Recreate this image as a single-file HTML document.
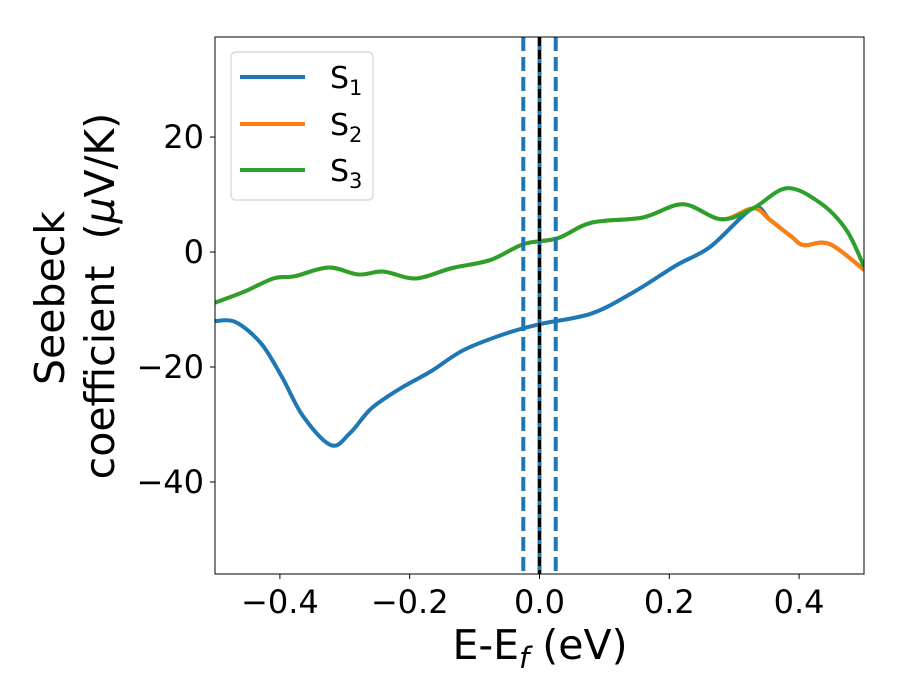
<!DOCTYPE html>
<html><head><meta charset="utf-8"><style>
html,body{margin:0;padding:0;background:#fff;}
svg{display:block;font-family:"DejaVu Sans","Liberation Sans",sans-serif;}
</style></head><body>
<svg id="chart" width="900" height="700" viewBox="0 0 900 700" xmlns="http://www.w3.org/2000/svg">
<rect width="900" height="700" fill="#fff"/>
<g id="plot"></g>
<g id="axes"></g>
<g id="legend"></g>
</svg>
<script>
const xTicks=[-0.4,-0.2,0.0,0.2,0.4];
const xTickLabels=["\u22120.4","\u22120.2","0.0","0.2","0.4"];
const yTicks=[20,0,-20,-40];
const yTickLabels=["20","0","\u221220","\u221240"];
const s1x=[-0.5,-0.468,-0.429,-0.397,-0.364,-0.321,-0.292,-0.259,-0.214,-0.168,-0.116,-0.05,0.002,0.08,0.146,0.211,0.263,0.329,0.355,0.388,0.407,0.447,0.5];
const s1y=[-12.0,-12.2,-15.9,-21.7,-28.6,-33.6,-31.5,-27.2,-23.7,-20.8,-17.0,-14.1,-12.5,-10.7,-6.9,-2.3,0.9,7.6,5.6,2.7,1.2,1.4,-3.1];
const s2x=[-0.5,-0.455,-0.41,-0.377,-0.325,-0.279,-0.24,-0.191,-0.135,-0.076,-0.024,0.028,0.08,0.159,0.221,0.28,0.329,0.355,0.388,0.407,0.447,0.5];
const s2y=[-8.8,-6.9,-4.6,-4.2,-2.7,-3.9,-3.4,-4.6,-2.8,-1.4,1.4,2.4,5.1,6.0,8.3,5.7,7.6,5.6,2.7,1.2,1.4,-3.1];
const s3x=[-0.5,-0.455,-0.41,-0.377,-0.325,-0.279,-0.24,-0.191,-0.135,-0.076,-0.024,0.028,0.08,0.159,0.221,0.28,0.329,0.381,0.433,0.473,0.5];
const s3y=[-8.8,-6.9,-4.6,-4.2,-2.7,-3.9,-3.4,-4.6,-2.8,-1.4,1.4,2.4,5.1,6.0,8.3,5.7,7.6,11.1,8.5,3.8,-2.5];
const vlines=[-0.025,0.0,0.025];

const L=215,R=864,T=37,B=574;
const X0=-0.5,X1=0.5,Y0=-56.0,Y1=37.4;
const sx=v=>L+(v-X0)/(X1-X0)*(R-L);
const sy=v=>B-(v-Y0)/(Y1-Y0)*(B-T);
const NS="http://www.w3.org/2000/svg";
function mk(t,a,p){const e=document.createElementNS(NS,t);for(const k in a)e.setAttribute(k,a[k]);p.appendChild(e);return e;}
function path(xs,ys){const p=xs.map((x,i)=>[sx(x),sy(ys[i])]);let d=`M${p[0][0]},${p[0][1]}`;
for(let i=0;i<p.length-1;i++){const p0=p[Math.max(0,i-1)],p1=p[i],p2=p[i+1],p3=p[Math.min(p.length-1,i+2)];
d+=` C${p1[0]+(p2[0]-p0[0])/6},${p1[1]+(p2[1]-p0[1])/6} ${p2[0]-(p3[0]-p1[0])/6},${p2[1]-(p3[1]-p1[1])/6} ${p2[0]},${p2[1]}`;}return d;}
const plot=document.getElementById('plot'),axes=document.getElementById('axes'),leg=document.getElementById('legend');
const defs=mk('defs',{},plot);const cp=mk('clipPath',{id:'c'},defs);mk('rect',{x:L,y:T,width:R-L,height:B-T},cp);
const g=mk('g',{'clip-path':'url(#c)'},plot);
const cols=["#1f77b4","#ff7f0e","#2ca02c"];
[[s1x,s1y],[s2x,s2y],[s3x,s3y]].forEach((s,i)=>{const e=mk('path',{d:path(s[0],s[1]),fill:'none',stroke:cols[i],'stroke-width':4,'stroke-linejoin':'round'},g);

});
vlines.forEach(v=>{const e=mk('line',{x1:sx(v),x2:sx(v),y1:T,y2:B,stroke:"#1f77b4",'stroke-width':4,'stroke-dasharray':v===0?'none':'14,6'},g);

});
const z=mk('line',{x1:sx(0),x2:sx(0),y1:T,y2:B,stroke:"#000",'stroke-width':3,'stroke-dasharray':'9,4'},g);


const fr=mk('rect',{x:L,y:T,width:R-L,height:B-T,fill:'none',stroke:'#000','stroke-width':1},axes);


xTicks.forEach((v,i)=>{mk('line',{x1:sx(v),x2:sx(v),y1:B,y2:B+5,stroke:'#000'},axes);
const t=mk('text',{x:sx(v),y:B+39,'text-anchor':'middle','font-size':32},axes);t.textContent=xTickLabels[i];

});
yTicks.forEach((v,i)=>{mk('line',{x1:L-5,x2:L,y1:sy(v),y2:sy(v),stroke:'#000'},axes);
const t=mk('text',{x:L-11,y:sy(v)+11,'text-anchor':'end','font-size':32},axes);t.textContent=yTickLabels[i];

});
const xl=mk('text',{x:540,y:659,'text-anchor':'middle','font-size':41},axes);
xl.innerHTML='E-E<tspan font-style="italic" font-size="29" dy="9">f</tspan><tspan dy="-9"> (eV)</tspan>';


const yl=mk('text',{transform:'rotate(-90)','text-anchor':'middle','font-size':41},axes);
yl.innerHTML='<tspan x="-298" y="64">Seebeck</tspan><tspan x="-296" y="114">coefficient\u00a0\u00a0(<tspan font-style="italic">μ</tspan>V/K)</tspan>';


const lb=mk('rect',{x:231,y:52,width:142,height:148,rx:5,fill:'#fff',stroke:'#d0d0d0','stroke-width':1.2,opacity:0.9},leg);


[77,124,170].forEach((y,i)=>{const l=mk('line',{x1:240,x2:305,y1:y,y2:y,stroke:cols[i],'stroke-width':4},leg);


const t=mk('text',{x:330,y:y+11,'font-size':30},leg);t.innerHTML='S<tspan font-size="21" dy="7">'+(i+1)+'</tspan>';

});
</script>
</body></html>
